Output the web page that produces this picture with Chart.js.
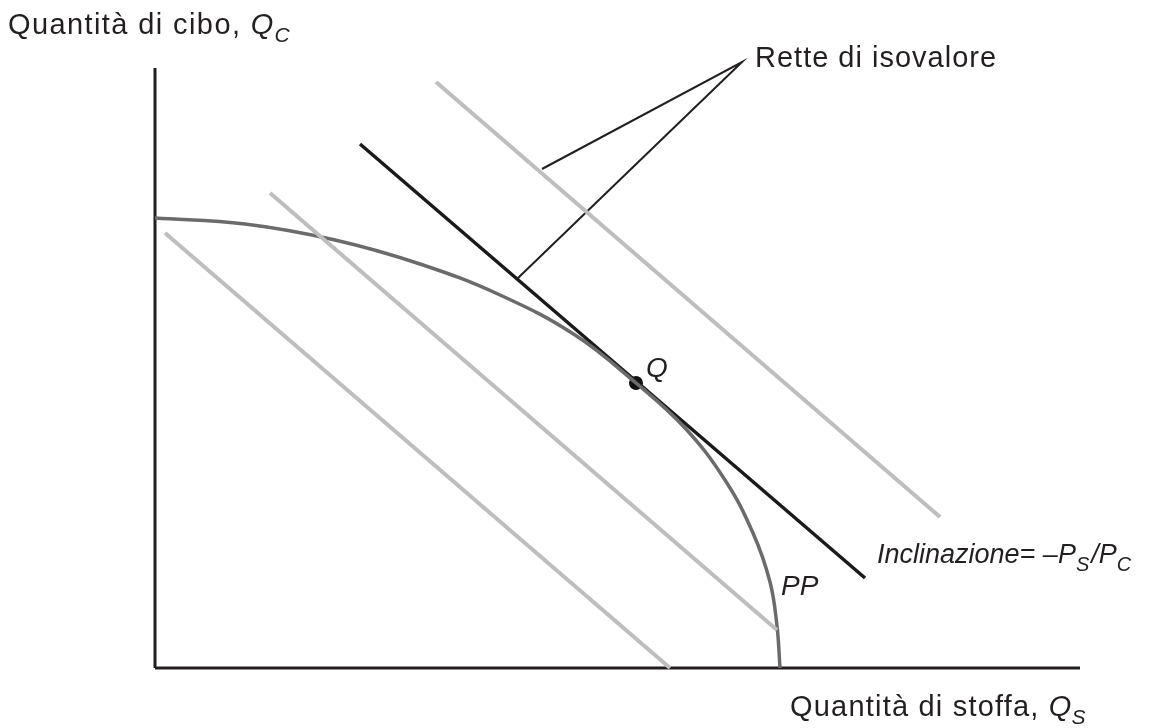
<!DOCTYPE html>
<html>
<head>
<meta charset="utf-8">
<script src="https://cdn.jsdelivr.net/npm/chart.js@4"></script>
<style>
  html, body { margin: 0; padding: 0; background: #fff; }
  #wrap { width: 1163px; height: 728px; position: relative; }
</style>
</head>
<body>
<div id="wrap"><canvas id="ppChart"></canvas></div>
<script>
// Frontiera di produzione PP
const ppX = [0, 90, 180, 265, 345, 420, 481, 530, 570, 598, 615, 622, 625];
const ppY = [450, 444, 428, 404, 373, 333, 285, 240, 188, 135, 86, 42, 0];

// Rette di isovalore (estremi)
const isoLowX = [10, 515];
const isoLowY = [435, 0];
const isoMidX = [115, 622];
const isoMidY = [475, 38];
const isoHighX = [281, 785];
const isoHighY = [586, 151];
const tangentX = [205, 710];
const tangentY = [524, 90];

// Punto Q
const pointQ = [481, 285];

// Linee della didascalia "Rette di isovalore"
const leaderX = [387, 587, 363];
const leaderY = [499, 606, 390];

const xMax = 925;
const yMax = 600;

const colors = {
    ink: '#231f20',
    curve: '#6b6b6b',
    iso: '#bebebe'
};

const pts = (xs, ys) => xs.map((x, i) => ({ x, y: ys[i] }));

const lineSet = (data, color, width, extra = {}) => ({
    data,
    showLine: true,
    borderColor: color,
    borderWidth: width,
    pointRadius: 0,
    fill: false,
    clip: false,
    ...extra
});

// testo con pedici
function drawRich(ctx, parts, x, y) {
    let cx = x;
    parts.forEach(p => {
        ctx.font = `${p.italic ? 'italic ' : ''}${p.size}px "Liberation Sans", Arial, sans-serif`;
        ctx.letterSpacing = (p.spacing || 0) + 'px';
        ctx.fillText(p.text, cx, y + (p.dy || 0));
        cx += ctx.measureText(p.text).width + (p.gap || 0);
    });
    ctx.letterSpacing = '0px';
}

const labelsPlugin = {
    id: 'labels',
    afterDraw(chart) {
        const ctx = chart.ctx;
        ctx.save();
        ctx.fillStyle = colors.ink;
        ctx.textBaseline = 'alphabetic';
        drawRich(ctx, [
            { text: 'Quantità di cibo, ', size: 29, spacing: 1.4 },
            { text: 'Q', size: 29, italic: true, gap: 1 },
            { text: 'C', size: 21, italic: true, dy: 8 }
        ], 8, 34);
        drawRich(ctx, [{ text: 'Rette di isovalore', size: 29, spacing: 1 }], 755, 67);
        drawRich(ctx, [{ text: 'Q', size: 28, italic: true }], 646, 377);
        drawRich(ctx, [{ text: 'PP', size: 28, italic: true }], 781, 595);
        drawRich(ctx, [
            { text: 'Inclinazione= \u2013P', size: 27, italic: true },
            { text: 'S', size: 20, italic: true, dy: 8, gap: 2 },
            { text: '/P', size: 27, italic: true },
            { text: 'C', size: 20, italic: true, dy: 8 }
        ], 877, 563);
        drawRich(ctx, [
            { text: 'Quantità di stoffa, ', size: 29, spacing: 1.2 },
            { text: 'Q', size: 29, italic: true },
            { text: 'S', size: 21, italic: true, dy: 8 }
        ], 790, 716);
        ctx.restore();
    }
};

new Chart(document.getElementById('ppChart'), {
    type: 'scatter',
    data: {
        datasets: [
            lineSet(pts(isoLowX, isoLowY), colors.iso, 4),
            lineSet(pts(isoMidX, isoMidY), colors.iso, 4),
            lineSet(pts(isoHighX, isoHighY), colors.iso, 4),
            lineSet(pts(ppX, ppY), colors.curve, 3.5, { tension: 0.4 }),
            lineSet(pts(tangentX, tangentY), '#1a1a1a', 3.5),
            lineSet(pts(leaderX, leaderY), colors.ink, 2),
            lineSet(pts([0, 0], [0, yMax]), colors.ink, 3),
            lineSet(pts([0, xMax], [0, 0]), colors.ink, 3),
            {
                data: [{ x: pointQ[0], y: pointQ[1] }],
                pointRadius: 7,
                pointBackgroundColor: '#111',
                pointBorderWidth: 0,
                clip: false
            }
        ]
    },
    options: {
        responsive: true,
        maintainAspectRatio: false,
        animation: false,
        layout: { padding: { left: 155, right: 83, top: 68, bottom: 60 } },
        scales: {
            x: { type: 'linear', min: 0, max: xMax, display: false },
            y: { type: 'linear', min: 0, max: yMax, display: false }
        },
        plugins: {
            legend: { display: false },
            tooltip: { enabled: false }
        }
    },
    plugins: [labelsPlugin]
});
</script>
</body>
</html>
